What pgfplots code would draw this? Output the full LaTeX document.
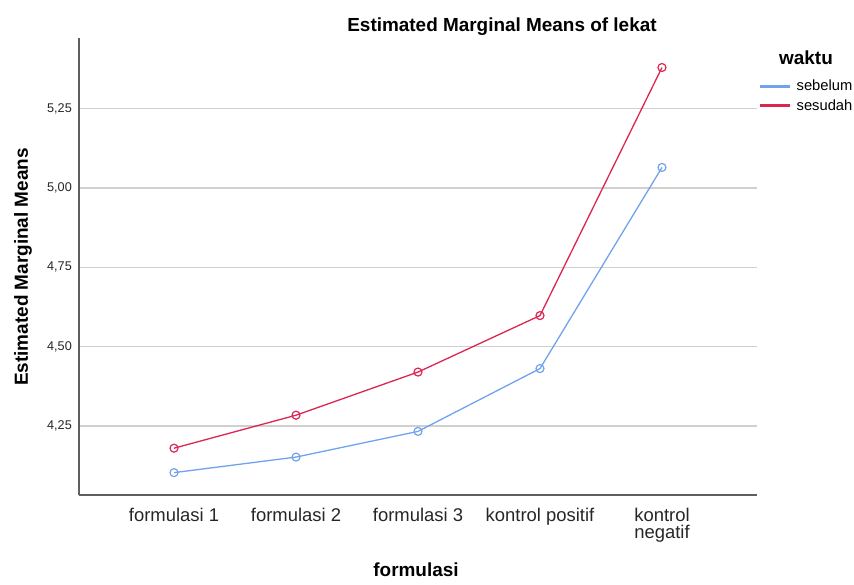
\documentclass[border=0pt]{standalone}
\usepackage{pgfplots}
\pgfplotsset{compat=1.18}
\usepackage{fontspec}
\setmainfont{Liberation Sans}
\definecolor{sebelumc}{RGB}{112,163,236}
\definecolor{sesudahc}{RGB}{220,38,82}
\definecolor{gridc}{RGB}{208,208,208}
\definecolor{axc}{RGB}{95,95,95}
\begin{document}
\begin{tikzpicture}
\useasboundingbox (-79bp,-90bp) rectangle (775bp,495bp);
\begin{axis}[
  at={(0,0)}, anchor=south west,
  scale only axis, width=678bp, height=457bp,
  xmin=-0.779, xmax=4.779,
  ymin=4.0325, ymax=5.473,
  axis lines=left,
  axis line style={-, axc, line width=1.3bp},
  xtick={0,1,2,3,4},
  xticklabels={formulasi 1, formulasi 2, formulasi 3, kontrol positif, {kontrol\\negatif}},
  xticklabel style={font=\fontsize{18.5}{17.5}\selectfont, align=center, anchor=north, inner sep=0pt, yshift=-13bp, text=black!85},
  ytick={4.25,4.5,4.75,5,5.25},
  yticklabel style={font=\fontsize{12.7}{14}\selectfont, anchor=east, inner sep=0pt, xshift=-7bp, text=black!85},
  /pgf/number format/.cd, fixed, fixed zerofill, precision=2, use comma, assume math mode=true,
  /pgfplots/.cd,
  major tick length=0pt,
  ymajorgrids, grid style={gridc, line width=1.5bp},
  legend style={at={(rel axis cs:1.0044,0.912)}, anchor=north west, draw=none, fill=none, inner sep=0pt, outer sep=0pt, font=\fontsize{14.8}{16}\selectfont, row sep=3bp},
  legend cell align=left,
  legend image code/.code={\fill[#1, mark=none] (0bp,-0.75bp) rectangle (29bp,0.75bp); \path[draw=none, fill=none] (0bp,0bp) -- (34bp,0bp);},
]
\addplot[sebelumc, line width=1.3bp, mark=o, mark size=4bp, mark options={fill=white, line width=1.2bp}] coordinates {(0,4.103) (1,4.152) (2,4.233) (3,4.431) (4,5.065)};
\addplot[sesudahc, line width=1.3bp, mark=o, mark size=4bp, mark options={fill=white, line width=1.2bp}] coordinates {(0,4.180) (1,4.284) (2,4.420) (3,4.598) (4,5.380)};
\legend{sebelum, sesudah}
\end{axis}
\node[anchor=base, font=\fontsize{19}{22}\selectfont\bfseries] at (423bp,463bp) {Estimated Marginal Means of lekat};
\node[anchor=base, rotate=90, font=\fontsize{19}{22}\selectfont\bfseries] at (-51bp,228bp) {Estimated Marginal Means};
\node[anchor=base, font=\fontsize{19}{22}\selectfont\bfseries] at (337bp,-81bp) {formulasi};
\node[anchor=base, font=\fontsize{19}{22}\selectfont\bfseries] at (727bp,430bp) {waktu};
\end{tikzpicture}
\end{document}
